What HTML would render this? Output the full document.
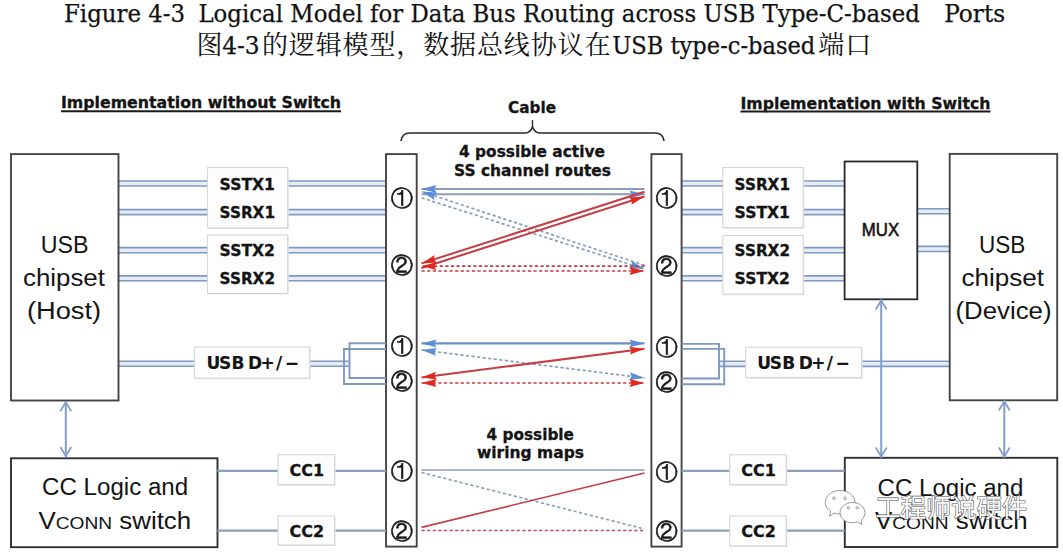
<!DOCTYPE html><html><head><meta charset="utf-8"><title>Figure 4-3 Logical Model for Data Bus Routing</title><style>html,body{margin:0;padding:0;background:#fff;overflow:hidden}svg{display:block}</style></head><body>
<svg width="1063" height="556" viewBox="0 0 1063 556">
<rect width="1063" height="556" fill="#fff"/>
<text x="64" y="21.6" font-family="'DejaVu Serif', 'Noto Serif CJK SC', serif" font-size="23.3" font-weight="normal" fill="#111" text-anchor="start" textLength="121" lengthAdjust="spacingAndGlyphs" stroke="#111" stroke-width="0.25">Figure 4-3</text>
<text x="198.4" y="21.6" font-family="'DejaVu Serif', 'Noto Serif CJK SC', serif" font-size="23.3" font-weight="normal" fill="#111" text-anchor="start" textLength="721.5" lengthAdjust="spacingAndGlyphs" stroke="#111" stroke-width="0.25">Logical Model for Data Bus Routing across USB Type-C-based</text>
<text x="944.2" y="21.6" font-family="'DejaVu Serif', 'Noto Serif CJK SC', serif" font-size="23.3" font-weight="normal" fill="#111" text-anchor="start" textLength="61" lengthAdjust="spacingAndGlyphs" stroke="#111" stroke-width="0.25">Ports</text>
<text x="196.5" y="54.1" font-family="'Noto Serif CJK SC', serif" font-size="26" fill="#111" textLength="24" lengthAdjust="spacing">图</text>
<text x="222.2" y="53.6" font-family="'DejaVu Serif', 'Noto Serif CJK SC', serif" font-size="23.3" font-weight="normal" fill="#111" text-anchor="start" textLength="37.5" lengthAdjust="spacingAndGlyphs" stroke="#111" stroke-width="0.25">4-3</text>
<text x="262" y="54.1" font-family="'Noto Serif CJK SC', serif" font-size="26" fill="#111" textLength="348.5" lengthAdjust="spacing">的逻辑模型，数据总线协议在</text>
<text x="612.3" y="53.6" font-family="'DejaVu Serif', 'Noto Serif CJK SC', serif" font-size="23.3" font-weight="normal" fill="#111" text-anchor="start" textLength="203" lengthAdjust="spacingAndGlyphs" stroke="#111" stroke-width="0.25">USB type-c-based</text>
<text x="818.2" y="54.1" font-family="'Noto Serif CJK SC', serif" font-size="26" fill="#111" textLength="53" lengthAdjust="spacing">端口</text>
<text x="61" y="108.2" font-family="'DejaVu Sans', Verdana, sans-serif" font-size="15" font-weight="bold" fill="#141414" text-anchor="start" textLength="280" lengthAdjust="spacingAndGlyphs" stroke="#141414" stroke-width="0.3">Implementation without Switch</text>
<line x1="61" y1="111.3" x2="341" y2="111.3" stroke="#1a1a1a" stroke-width="2"/>
<text x="740.5" y="108.8" font-family="'DejaVu Sans', Verdana, sans-serif" font-size="15" font-weight="bold" fill="#141414" text-anchor="start" textLength="250" lengthAdjust="spacingAndGlyphs" stroke="#141414" stroke-width="0.3">Implementation with Switch</text>
<line x1="740.5" y1="111.6" x2="990.5" y2="111.6" stroke="#1a1a1a" stroke-width="2"/>
<text x="508" y="112.8" font-family="'DejaVu Sans', Verdana, sans-serif" font-size="15" font-weight="bold" fill="#141414" text-anchor="start" textLength="48" lengthAdjust="spacingAndGlyphs" stroke="#141414" stroke-width="0.3">Cable</text>
<path d="M401,141 Q402,133 410,133 L525.5,133 Q530,133 532.5,127 Q535,133 539.5,133 L655,133 Q663,133 664,141" fill="none" stroke="#2a2a2a" stroke-width="1.7"/>
<line x1="532.5" y1="127.5" x2="532.5" y2="120" stroke="#2a2a2a" stroke-width="1.4"/>
<text x="459" y="157.1" font-family="'DejaVu Sans', Verdana, sans-serif" font-size="15" font-weight="bold" fill="#141414" text-anchor="start" textLength="146" lengthAdjust="spacingAndGlyphs" stroke="#141414" stroke-width="0.3">4 possible active</text>
<text x="454" y="176" font-family="'DejaVu Sans', Verdana, sans-serif" font-size="15" font-weight="bold" fill="#141414" text-anchor="start" textLength="157" lengthAdjust="spacingAndGlyphs" stroke="#141414" stroke-width="0.3">SS channel routes</text>
<rect x="118" y="181" width="268" height="5" fill="#e6ecf6"/>
<line x1="118" y1="181" x2="386" y2="181" stroke="#7f9ac2" stroke-width="1.6"/>
<line x1="118" y1="186" x2="386" y2="186" stroke="#7f9ac2" stroke-width="1.6"/>
<rect x="118" y="209.6" width="268" height="5.0" fill="#e6ecf6"/>
<line x1="118" y1="209.6" x2="386" y2="209.6" stroke="#7f9ac2" stroke-width="1.6"/>
<line x1="118" y1="214.6" x2="386" y2="214.6" stroke="#7f9ac2" stroke-width="1.6"/>
<rect x="118" y="247.6" width="268" height="5.099999999999994" fill="#e6ecf6"/>
<line x1="118" y1="247.6" x2="386" y2="247.6" stroke="#7f9ac2" stroke-width="1.6"/>
<line x1="118" y1="252.7" x2="386" y2="252.7" stroke="#7f9ac2" stroke-width="1.6"/>
<rect x="118" y="275.9" width="268" height="4.800000000000011" fill="#e6ecf6"/>
<line x1="118" y1="275.9" x2="386" y2="275.9" stroke="#7f9ac2" stroke-width="1.6"/>
<line x1="118" y1="280.7" x2="386" y2="280.7" stroke="#7f9ac2" stroke-width="1.6"/>
<rect x="681" y="181" width="163" height="5" fill="#e6ecf6"/>
<line x1="681" y1="181" x2="844" y2="181" stroke="#7f9ac2" stroke-width="1.6"/>
<line x1="681" y1="186" x2="844" y2="186" stroke="#7f9ac2" stroke-width="1.6"/>
<rect x="681" y="209.6" width="163" height="5.0" fill="#e6ecf6"/>
<line x1="681" y1="209.6" x2="844" y2="209.6" stroke="#7f9ac2" stroke-width="1.6"/>
<line x1="681" y1="214.6" x2="844" y2="214.6" stroke="#7f9ac2" stroke-width="1.6"/>
<rect x="681" y="247.6" width="163" height="5.099999999999994" fill="#e6ecf6"/>
<line x1="681" y1="247.6" x2="844" y2="247.6" stroke="#7f9ac2" stroke-width="1.6"/>
<line x1="681" y1="252.7" x2="844" y2="252.7" stroke="#7f9ac2" stroke-width="1.6"/>
<rect x="681" y="275.9" width="163" height="4.800000000000011" fill="#e6ecf6"/>
<line x1="681" y1="275.9" x2="844" y2="275.9" stroke="#7f9ac2" stroke-width="1.6"/>
<line x1="681" y1="280.7" x2="844" y2="280.7" stroke="#7f9ac2" stroke-width="1.6"/>
<rect x="917" y="208.7" width="33" height="5.0" fill="#e6ecf6"/>
<line x1="917" y1="208.7" x2="950" y2="208.7" stroke="#7f9ac2" stroke-width="1.6"/>
<line x1="917" y1="213.7" x2="950" y2="213.7" stroke="#7f9ac2" stroke-width="1.6"/>
<rect x="917" y="246.4" width="33" height="5.099999999999994" fill="#e6ecf6"/>
<line x1="917" y1="246.4" x2="950" y2="246.4" stroke="#7f9ac2" stroke-width="1.6"/>
<line x1="917" y1="251.5" x2="950" y2="251.5" stroke="#7f9ac2" stroke-width="1.6"/>
<rect x="118" y="361.3" width="232" height="4.899999999999977" fill="#e6ecf6"/>
<line x1="118" y1="361.3" x2="350" y2="361.3" stroke="#7f9ac2" stroke-width="1.6"/>
<line x1="118" y1="366.2" x2="350" y2="366.2" stroke="#7f9ac2" stroke-width="1.6"/>
<rect x="719" y="361.3" width="231" height="5.099999999999966" fill="#e6ecf6"/>
<line x1="719" y1="361.3" x2="950" y2="361.3" stroke="#7f9ac2" stroke-width="1.6"/>
<line x1="719" y1="366.4" x2="950" y2="366.4" stroke="#7f9ac2" stroke-width="1.6"/>
<rect x="11" y="154.1" width="107.5" height="246.4" fill="#fff" stroke="#444" stroke-width="1.9"/>
<rect x="949.7" y="153.9" width="107.5" height="246.4" fill="#fff" stroke="#444" stroke-width="1.9"/>
<rect x="844.6" y="161.5" width="72.7" height="137.8" fill="#fff" stroke="#262626" stroke-width="1.8"/>
<rect x="11" y="458.3" width="206.5" height="88.9" fill="#fff" stroke="#303030" stroke-width="1.9"/>
<rect x="844.8" y="457.8" width="212.5" height="89.2" fill="#fff" stroke="#303030" stroke-width="1.9"/>
<rect x="386" y="154.1" width="30.7" height="392.5" fill="#fff" stroke="#444" stroke-width="1.9"/>
<rect x="651.4" y="154.1" width="30.2" height="392.5" fill="#fff" stroke="#444" stroke-width="1.9"/>
<rect x="208.6" y="168.6" width="80.1" height="60.4" fill="#e6e6e6"/>
<rect x="207.6" y="167.6" width="80.1" height="60.4" fill="#fdfdfd" stroke="#d2d2d2" stroke-width="1"/>
<rect x="208.6" y="236" width="80.1" height="58.5" fill="#e6e6e6"/>
<rect x="207.6" y="235" width="80.1" height="58.5" fill="#fdfdfd" stroke="#d2d2d2" stroke-width="1"/>
<text x="219.6" y="190.2" font-family="'DejaVu Sans', Verdana, sans-serif" font-size="16" font-weight="bold" fill="#141414" text-anchor="start" textLength="55.4" lengthAdjust="spacingAndGlyphs" stroke="#141414" stroke-width="0.3">SSTX1</text>
<text x="219.6" y="218.4" font-family="'DejaVu Sans', Verdana, sans-serif" font-size="16" font-weight="bold" fill="#141414" text-anchor="start" textLength="55.4" lengthAdjust="spacingAndGlyphs" stroke="#141414" stroke-width="0.3">SSRX1</text>
<text x="219.6" y="256.4" font-family="'DejaVu Sans', Verdana, sans-serif" font-size="16" font-weight="bold" fill="#141414" text-anchor="start" textLength="55.4" lengthAdjust="spacingAndGlyphs" stroke="#141414" stroke-width="0.3">SSTX2</text>
<text x="219.6" y="284.4" font-family="'DejaVu Sans', Verdana, sans-serif" font-size="16" font-weight="bold" fill="#141414" text-anchor="start" textLength="55.4" lengthAdjust="spacingAndGlyphs" stroke="#141414" stroke-width="0.3">SSRX2</text>
<rect x="723.8" y="168.5" width="80.4" height="60.1" fill="#e6e6e6"/>
<rect x="722.8" y="167.5" width="80.4" height="60.1" fill="#fdfdfd" stroke="#d2d2d2" stroke-width="1"/>
<rect x="723.8" y="236.5" width="80.4" height="58.7" fill="#e6e6e6"/>
<rect x="722.8" y="235.5" width="80.4" height="58.7" fill="#fdfdfd" stroke="#d2d2d2" stroke-width="1"/>
<text x="734.6" y="190.2" font-family="'DejaVu Sans', Verdana, sans-serif" font-size="16" font-weight="bold" fill="#141414" text-anchor="start" textLength="55.4" lengthAdjust="spacingAndGlyphs" stroke="#141414" stroke-width="0.3">SSRX1</text>
<text x="734.6" y="218.4" font-family="'DejaVu Sans', Verdana, sans-serif" font-size="16" font-weight="bold" fill="#141414" text-anchor="start" textLength="55.4" lengthAdjust="spacingAndGlyphs" stroke="#141414" stroke-width="0.3">SSTX1</text>
<text x="734.6" y="256.4" font-family="'DejaVu Sans', Verdana, sans-serif" font-size="16" font-weight="bold" fill="#141414" text-anchor="start" textLength="55.4" lengthAdjust="spacingAndGlyphs" stroke="#141414" stroke-width="0.3">SSRX2</text>
<text x="734.6" y="284.4" font-family="'DejaVu Sans', Verdana, sans-serif" font-size="16" font-weight="bold" fill="#141414" text-anchor="start" textLength="55.4" lengthAdjust="spacingAndGlyphs" stroke="#141414" stroke-width="0.3">SSTX2</text>
<text x="861.8" y="236" font-family="'Liberation Sans', Arial, sans-serif" font-size="18.3" font-weight="normal" fill="#141414" text-anchor="start" textLength="37.3" lengthAdjust="spacingAndGlyphs" stroke="#141414" stroke-width="0.6">MUX</text>
<rect x="195.3" y="347.9" width="115.4" height="31.3" fill="#e6e6e6"/>
<rect x="194.3" y="346.9" width="115.4" height="31.3" fill="#fdfdfd" stroke="#d2d2d2" stroke-width="1"/>
<rect x="746.7" y="348.3" width="115.9" height="30.4" fill="#e6e6e6"/>
<rect x="745.7" y="347.3" width="115.9" height="30.4" fill="#fdfdfd" stroke="#d2d2d2" stroke-width="1"/>
<text x="206.5 219.0 231.5 243.0 248.0 260.4 276.0 284.8" y="368.9" font-family="'DejaVu Sans', Verdana, sans-serif" font-size="17" font-weight="bold" fill="#141414" stroke="#141414" stroke-width="0.1">USB D+/&#8722;</text>
<text x="757.3 769.8 782.3 793.8 798.8 811.2 826.8 835.6" y="368.9" font-family="'DejaVu Sans', Verdana, sans-serif" font-size="17" font-weight="bold" fill="#141414" stroke="#141414" stroke-width="0.1">USB D+/&#8722;</text>
<text x="40.7" y="253.2" font-family="'Liberation Sans', Arial, sans-serif" font-size="23.5" font-weight="normal" fill="#141414" text-anchor="start" textLength="47.8" lengthAdjust="spacingAndGlyphs">USB</text>
<text x="23" y="285.6" font-family="'Liberation Sans', Arial, sans-serif" font-size="23.5" font-weight="normal" fill="#141414" text-anchor="start" textLength="81.9" lengthAdjust="spacingAndGlyphs">chipset</text>
<text x="26.9" y="318.8" font-family="'Liberation Sans', Arial, sans-serif" font-size="23.5" font-weight="normal" fill="#141414" text-anchor="start" textLength="74.2" lengthAdjust="spacingAndGlyphs">(Host)</text>
<text x="978.9" y="253.2" font-family="'Liberation Sans', Arial, sans-serif" font-size="23.5" font-weight="normal" fill="#141414" text-anchor="start" textLength="46.4" lengthAdjust="spacingAndGlyphs">USB</text>
<text x="961.4" y="285.6" font-family="'Liberation Sans', Arial, sans-serif" font-size="23.5" font-weight="normal" fill="#141414" text-anchor="start" textLength="82.6" lengthAdjust="spacingAndGlyphs">chipset</text>
<text x="955.5" y="318.8" font-family="'Liberation Sans', Arial, sans-serif" font-size="23.5" font-weight="normal" fill="#141414" text-anchor="start" textLength="96" lengthAdjust="spacingAndGlyphs">(Device)</text>
<text x="42.1" y="495.3" font-family="'Liberation Sans', Arial, sans-serif" font-size="23.5" font-weight="normal" fill="#141414" text-anchor="start" textLength="146" lengthAdjust="spacingAndGlyphs">CC Logic and</text>
<text x="38.4" y="528.8" font-family="'Liberation Sans', Arial, sans-serif" font-size="23.5" font-weight="normal" fill="#141414" text-anchor="start" textLength="152.8" lengthAdjust="spacingAndGlyphs">V<tspan font-size="17.4">CONN</tspan> switch</text>
<text x="877.6" y="495.6" font-family="'Liberation Sans', Arial, sans-serif" font-size="23.5" font-weight="normal" fill="#141414" text-anchor="start" textLength="145.7" lengthAdjust="spacingAndGlyphs">CC Logic and</text>
<text x="874.9" y="528.8" font-family="'Liberation Sans', Arial, sans-serif" font-size="23.5" font-weight="normal" fill="#141414" text-anchor="start" textLength="152.8" lengthAdjust="spacingAndGlyphs">V<tspan font-size="17.4">CONN</tspan> switch</text>
<polyline points="386,343.3 349.5,343.3 349.5,378 386,378" fill="none" stroke="#7f98c0" stroke-width="1.9"/>
<polyline points="386,349 344,349 344,384 386,384" fill="none" stroke="#7f98c0" stroke-width="1.9"/>
<polyline points="681.6,343.9 719,343.9 719,378.5 681.6,378.5" fill="none" stroke="#7f98c0" stroke-width="1.9"/>
<polyline points="681.6,348.9 724.2,348.9 724.2,384.2 681.6,384.2" fill="none" stroke="#7f98c0" stroke-width="1.9"/>
<text x="402.0" y="205.7" font-family="'WenQuanYi Zen Hei', 'Noto Sans CJK SC', sans-serif" font-size="22.3" fill="#1a1a1a" stroke="#1a1a1a" stroke-width="0.6" text-anchor="middle">&#9312;</text>
<text x="402.0" y="273.0" font-family="'WenQuanYi Zen Hei', 'Noto Sans CJK SC', sans-serif" font-size="22.3" fill="#1a1a1a" stroke="#1a1a1a" stroke-width="0.6" text-anchor="middle">&#9313;</text>
<text x="402.0" y="354.2" font-family="'WenQuanYi Zen Hei', 'Noto Sans CJK SC', sans-serif" font-size="22.3" fill="#1a1a1a" stroke="#1a1a1a" stroke-width="0.6" text-anchor="middle">&#9312;</text>
<text x="402.0" y="388.6" font-family="'WenQuanYi Zen Hei', 'Noto Sans CJK SC', sans-serif" font-size="22.3" fill="#1a1a1a" stroke="#1a1a1a" stroke-width="0.6" text-anchor="middle">&#9313;</text>
<text x="402.0" y="478.8" font-family="'WenQuanYi Zen Hei', 'Noto Sans CJK SC', sans-serif" font-size="22.3" fill="#1a1a1a" stroke="#1a1a1a" stroke-width="0.6" text-anchor="middle">&#9312;</text>
<text x="402.0" y="538.6" font-family="'WenQuanYi Zen Hei', 'Noto Sans CJK SC', sans-serif" font-size="22.3" fill="#1a1a1a" stroke="#1a1a1a" stroke-width="0.6" text-anchor="middle">&#9313;</text>
<text x="666.6" y="206.4" font-family="'WenQuanYi Zen Hei', 'Noto Sans CJK SC', sans-serif" font-size="22.3" fill="#1a1a1a" stroke="#1a1a1a" stroke-width="0.6" text-anchor="middle">&#9312;</text>
<text x="666.6" y="273.8" font-family="'WenQuanYi Zen Hei', 'Noto Sans CJK SC', sans-serif" font-size="22.3" fill="#1a1a1a" stroke="#1a1a1a" stroke-width="0.6" text-anchor="middle">&#9313;</text>
<text x="666.6" y="354.5" font-family="'WenQuanYi Zen Hei', 'Noto Sans CJK SC', sans-serif" font-size="22.3" fill="#1a1a1a" stroke="#1a1a1a" stroke-width="0.6" text-anchor="middle">&#9312;</text>
<text x="666.6" y="389.6" font-family="'WenQuanYi Zen Hei', 'Noto Sans CJK SC', sans-serif" font-size="22.3" fill="#1a1a1a" stroke="#1a1a1a" stroke-width="0.6" text-anchor="middle">&#9313;</text>
<text x="666.6" y="479.6" font-family="'WenQuanYi Zen Hei', 'Noto Sans CJK SC', sans-serif" font-size="22.3" fill="#1a1a1a" stroke="#1a1a1a" stroke-width="0.6" text-anchor="middle">&#9312;</text>
<text x="666.6" y="538.9" font-family="'WenQuanYi Zen Hei', 'Noto Sans CJK SC', sans-serif" font-size="22.3" fill="#1a1a1a" stroke="#1a1a1a" stroke-width="0.6" text-anchor="middle">&#9313;</text>
<line x1="644.5" y1="189" x2="421.5" y2="189" stroke="#8a9eba" stroke-width="2"/>
<polygon points="421.5,189.0 436.5,185.1 434.5,189.0 436.5,192.9" fill="#5d8fd8"/>
<line x1="421.5" y1="194.3" x2="644.5" y2="194.3" stroke="#8a9eba" stroke-width="2"/>
<polygon points="644.5,194.3 629.5,198.2 631.5,194.3 629.5,190.4" fill="#5d8fd8"/>
<line x1="644.5" y1="265.3" x2="421.5" y2="191.6" stroke="#8a9eba" stroke-width="1.7" stroke-dasharray="3.2,2.4"/>
<polygon points="421.5,191.6 437.0,192.6 433.8,195.7 434.5,200.0" fill="#5d8fd8"/>
<line x1="421.5" y1="197.8" x2="644.5" y2="269" stroke="#8a9eba" stroke-width="1.7" stroke-dasharray="3.2,2.4"/>
<polygon points="644.5,269.0 629.0,268.2 632.1,265.0 631.4,260.7" fill="#5d8fd8"/>
<line x1="644.5" y1="191.8" x2="421.5" y2="263.4" stroke="#c63c44" stroke-width="2"/>
<polygon points="421.5,263.4 434.6,255.1 433.9,259.4 437.0,262.5" fill="#e02a1f"/>
<line x1="421.5" y1="268" x2="644.5" y2="196.5" stroke="#c63c44" stroke-width="2"/>
<polygon points="644.5,196.5 631.4,204.8 632.1,200.5 629.0,197.4" fill="#e02a1f"/>
<line x1="644.5" y1="266.2" x2="421.5" y2="266.2" stroke="#c63c44" stroke-width="1.7" stroke-dasharray="3.2,2.4"/>
<polygon points="421.5,266.2 436.5,262.3 434.5,266.2 436.5,270.1" fill="#e02a1f"/>
<line x1="421.5" y1="271" x2="644.5" y2="271" stroke="#c63c44" stroke-width="1.7" stroke-dasharray="3.2,2.4"/>
<polygon points="644.5,271.0 629.5,274.9 631.5,271.0 629.5,267.1" fill="#e02a1f"/>
<line x1="421.5" y1="343.4" x2="644.5" y2="343.4" stroke="#6f8fc2" stroke-width="2.2"/>
<polygon points="644.5,343.4 629.5,347.3 631.5,343.4 629.5,339.5" fill="#5d8fd8"/>
<polygon points="421.5,343.4 436.5,339.5 434.5,343.4 436.5,347.3" fill="#5d8fd8"/>
<line x1="421.5" y1="350" x2="644.5" y2="378" stroke="#8a9eba" stroke-width="1.7" stroke-dasharray="3.2,2.4"/>
<polygon points="644.5,378.0 629.1,380.0 631.6,376.4 630.1,372.3" fill="#5d8fd8"/>
<polygon points="421.5,350.0 436.9,348.0 434.4,351.6 435.9,355.7" fill="#5d8fd8"/>
<line x1="421.5" y1="377.5" x2="644.5" y2="348.8" stroke="#c63c44" stroke-width="2"/>
<polygon points="644.5,348.8 630.1,354.6 631.6,350.5 629.1,346.8" fill="#e02a1f"/>
<polygon points="421.5,377.5 435.9,371.7 434.4,375.8 436.9,379.5" fill="#e02a1f"/>
<line x1="421.5" y1="383" x2="644.5" y2="383" stroke="#c63c44" stroke-width="1.7" stroke-dasharray="3.2,2.4"/>
<polygon points="644.5,383.0 629.5,386.9 631.5,383.0 629.5,379.1" fill="#e02a1f"/>
<polygon points="421.5,383.0 436.5,379.1 434.5,383.0 436.5,386.9" fill="#e02a1f"/>
<line x1="217.3" y1="470.8" x2="278" y2="470.8" stroke="#8d9eb8" stroke-width="2.2"/>
<line x1="217.3" y1="530.6" x2="278" y2="530.6" stroke="#8d9eb8" stroke-width="2.2"/>
<line x1="334.6" y1="470.8" x2="386" y2="470.8" stroke="#8d9eb8" stroke-width="2.2"/>
<line x1="334.6" y1="530.6" x2="386" y2="530.6" stroke="#8d9eb8" stroke-width="2.2"/>
<line x1="681.6" y1="470.8" x2="729.7" y2="470.8" stroke="#8d9eb8" stroke-width="2.2"/>
<line x1="681.6" y1="530.6" x2="729.7" y2="530.6" stroke="#8d9eb8" stroke-width="2.2"/>
<line x1="786.3" y1="470.8" x2="844.8" y2="470.8" stroke="#8d9eb8" stroke-width="2.2"/>
<line x1="786.3" y1="530.6" x2="844.8" y2="530.6" stroke="#8d9eb8" stroke-width="2.2"/>
<rect x="279" y="455.7" width="56.6" height="30.0" fill="#e6e6e6"/>
<rect x="278" y="454.7" width="56.6" height="30.0" fill="#fdfdfd" stroke="#d2d2d2" stroke-width="1"/>
<rect x="279" y="517" width="56.6" height="29.0" fill="#e6e6e6"/>
<rect x="278" y="516" width="56.6" height="29.0" fill="#fdfdfd" stroke="#d2d2d2" stroke-width="1"/>
<rect x="730.7" y="455.8" width="56.6" height="29.9" fill="#e6e6e6"/>
<rect x="729.7" y="454.8" width="56.6" height="29.9" fill="#fdfdfd" stroke="#d2d2d2" stroke-width="1"/>
<rect x="730.7" y="517" width="56.6" height="30.0" fill="#e6e6e6"/>
<rect x="729.7" y="516" width="56.6" height="30.0" fill="#fdfdfd" stroke="#d2d2d2" stroke-width="1"/>
<text x="289.6" y="476.3" font-family="'DejaVu Sans', Verdana, sans-serif" font-size="15" font-weight="bold" fill="#141414" text-anchor="start" textLength="34.5" lengthAdjust="spacingAndGlyphs" stroke="#141414" stroke-width="0.3">CC1</text>
<text x="289.6" y="537.3" font-family="'DejaVu Sans', Verdana, sans-serif" font-size="15" font-weight="bold" fill="#141414" text-anchor="start" textLength="34.5" lengthAdjust="spacingAndGlyphs" stroke="#141414" stroke-width="0.3">CC2</text>
<text x="741.3" y="476.3" font-family="'DejaVu Sans', Verdana, sans-serif" font-size="15" font-weight="bold" fill="#141414" text-anchor="start" textLength="34.5" lengthAdjust="spacingAndGlyphs" stroke="#141414" stroke-width="0.3">CC1</text>
<text x="741.3" y="537.3" font-family="'DejaVu Sans', Verdana, sans-serif" font-size="15" font-weight="bold" fill="#141414" text-anchor="start" textLength="34.5" lengthAdjust="spacingAndGlyphs" stroke="#141414" stroke-width="0.3">CC2</text>
<text x="486.5" y="439.5" font-family="'DejaVu Sans', Verdana, sans-serif" font-size="15" font-weight="bold" fill="#141414" text-anchor="start" textLength="87.5" lengthAdjust="spacingAndGlyphs" stroke="#141414" stroke-width="0.3">4 possible</text>
<text x="477" y="458" font-family="'DejaVu Sans', Verdana, sans-serif" font-size="15" font-weight="bold" fill="#141414" text-anchor="start" textLength="107" lengthAdjust="spacingAndGlyphs" stroke="#141414" stroke-width="0.3">wiring maps</text>
<line x1="421.5" y1="470" x2="644.5" y2="470" stroke="#8a9eba" stroke-width="1.6"/>
<line x1="421.5" y1="472.5" x2="644.5" y2="529" stroke="#8a9eba" stroke-width="1.6" stroke-dasharray="3.2,2.4"/>
<line x1="644.5" y1="473" x2="421.5" y2="527.4" stroke="#c63c44" stroke-width="1.6"/>
<line x1="421.5" y1="530.5" x2="644.5" y2="530.5" stroke="#b5525c" stroke-width="1.5" stroke-dasharray="3.2,2.4"/>
<line x1="65.8" y1="401.3" x2="65.8" y2="457" stroke="#819ecb" stroke-width="2"/>
<polyline points="60.3,411.3 65.8,402.3 71.3,411.3" fill="none" stroke="#819ecb" stroke-width="1.7"/>
<polyline points="60.3,447 65.8,456 71.3,447" fill="none" stroke="#819ecb" stroke-width="1.7"/>
<line x1="881.2" y1="299.5" x2="881.2" y2="457.5" stroke="#819ecb" stroke-width="2"/>
<polyline points="875.7,309.5 881.2,300.5 886.7,309.5" fill="none" stroke="#819ecb" stroke-width="1.7"/>
<polyline points="875.7,447.5 881.2,456.5 886.7,447.5" fill="none" stroke="#819ecb" stroke-width="1.7"/>
<line x1="1004.3" y1="400.5" x2="1004.3" y2="457.5" stroke="#819ecb" stroke-width="2"/>
<polyline points="998.8,410.5 1004.3,401.5 1009.8,410.5" fill="none" stroke="#819ecb" stroke-width="1.7"/>
<polyline points="998.8,447.5 1004.3,456.5 1009.8,447.5" fill="none" stroke="#819ecb" stroke-width="1.7"/>
<g fill="#fff" stroke="#8c8c8c" stroke-width="0.9">
<path d="M840,490.5 C848.5,490.5 855,496 855,502.5 C855,509 848.5,514 840,514 C838,514 836,513.7 834.3,513.1 L829.5,516.2 L830.8,511.4 C827.3,509.2 825.2,506 825.2,502.5 C825.2,496 831.5,490.5 840,490.5 Z"/>
<circle cx="834" cy="498.3" r="1.3" fill="none"/><circle cx="845" cy="498.3" r="1.3" fill="none"/>
<path d="M852.5,502.5 C859.5,502.5 865,507.2 865,512.8 C865,515.8 863.5,518.4 861,520.3 L862,524.5 L857.6,522 C856,522.4 854.3,522.8 852.5,522.8 C845.5,522.8 840,518.2 840,512.8 C840,507.2 845.5,502.5 852.5,502.5 Z"/>
<circle cx="848.3" cy="507.8" r="1.2" fill="none"/><circle cx="857.3" cy="507.8" r="1.2" fill="none"/>
</g>
<text x="875.5" y="517.3" font-family="'Noto Sans CJK SC', sans-serif" font-size="24.5" fill="#fff" stroke="#4a4a4a" stroke-width="1.1" paint-order="stroke" textLength="151.5" lengthAdjust="spacingAndGlyphs">工程师说硬件</text>
</svg></body></html>
